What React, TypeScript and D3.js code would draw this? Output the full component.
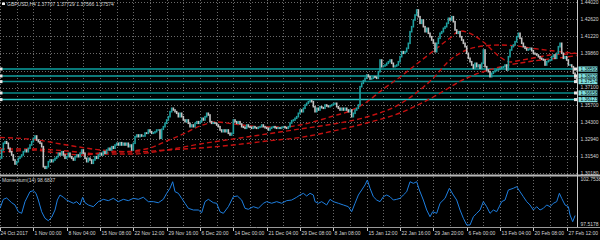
import React from "react";
import * as d3 from "d3";

const W = 600;
const H = 240;

const symbolName = "GBPUSD,H4";
const headerOHLC = ["1.37707", "1.37729", "1.37566", "1.37574"];
const momentumName = "Momentum(14)";
const momentumLast = "98.6837";
const momentumRange = [97.5178, 102.7538];
const priceRange = [1.3018, 1.4402];

const dateLabels = [
  "24 Oct 2017", "1 Nov 00:00", "8 Nov 04:00", "15 Nov 08:00", "22 Nov 12:00", "29 Nov 16:00",
  "6 Dec 20:00", "14 Dec 00:00", "21 Dec 04:00", "29 Dec 08:00", "8 Jan 08:00", "15 Jan 12:00",
  "22 Jan 16:00", "29 Jan 20:00", "6 Feb 00:00", "13 Feb 04:00", "20 Feb 08:00", "27 Feb 12:00",
];

const priceTickLabels = [
  "1.44020", "1.42620", "1.41220", "1.39860", "1.38460", "1.37100",
  "1.35700", "1.34300", "1.32940", "1.31540", "1.30180",
];

const levelPrices = [1.3859, 1.38029, 1.37574, 1.36658, 1.36123];
const levelLabels = ["1.38590", "1.38029", "1.37574", "1.36658", "1.36123"];

const closes = [
  1.31415, 1.32060, 1.32601, 1.32730, 1.32601, 1.32197, 1.31923, 1.31657, 1.31254, 1.30931,
  1.31117, 1.31391, 1.31520, 1.31657, 1.31923, 1.32060, 1.31923, 1.32197, 1.32463, 1.32730,
  1.33004, 1.33189, 1.32867, 1.32730, 1.32601, 1.32326, 1.30713, 1.30584, 1.30713, 1.31117,
  1.31254, 1.31117, 1.31254, 1.31391, 1.31520, 1.31794, 1.31657, 1.31923, 1.31657, 1.31391,
  1.31520, 1.31794, 1.31520, 1.31391, 1.31254, 1.31520, 1.31657, 1.31520, 1.31794, 1.32060,
  1.31794, 1.31391, 1.31117, 1.31391, 1.31254, 1.30988, 1.31254, 1.31520, 1.31391, 1.31657,
  1.31794, 1.31657, 1.31923, 1.31794, 1.32060, 1.32197, 1.32060, 1.32326, 1.32197, 1.32463,
  1.32601, 1.32463, 1.32649, 1.32463, 1.32601, 1.32463, 1.32601, 1.32326, 1.32463, 1.32060,
  1.32601, 1.33133, 1.33270, 1.33133, 1.33270, 1.33189, 1.33189, 1.33431, 1.33407, 1.33673,
  1.33536, 1.33407, 1.33455, 1.33536, 1.33673, 1.33673, 1.33004, 1.33730, 1.33939, 1.34213,
  1.34480, 1.34746, 1.35149, 1.35423, 1.35286, 1.35149, 1.35020, 1.34746, 1.35020, 1.34746,
  1.34480, 1.34342, 1.34480, 1.34213, 1.33939, 1.34076, 1.33939, 1.34213, 1.34342, 1.34213,
  1.34342, 1.34617, 1.34480, 1.34746, 1.35020, 1.34883, 1.34342, 1.34213, 1.34262, 1.34213,
  1.34076, 1.33939, 1.33673, 1.33536, 1.33673, 1.33536, 1.33673, 1.33407, 1.33270, 1.33407,
  1.34480, 1.34342, 1.34213, 1.34342, 1.34157, 1.33939, 1.33891, 1.33810, 1.34076, 1.33939,
  1.33891, 1.33810, 1.33939, 1.33859, 1.33810, 1.33891, 1.33939, 1.34076, 1.33939, 1.33859,
  1.33810, 1.33673, 1.33810, 1.33891, 1.33939, 1.33859, 1.33810, 1.33859, 1.33810, 1.33891,
  1.33939, 1.33859, 1.33810, 1.33939, 1.34238, 1.34423, 1.34480, 1.34617, 1.34746, 1.35020,
  1.35286, 1.35149, 1.35423, 1.35689, 1.35826, 1.35955, 1.36036, 1.35955, 1.35552, 1.35149,
  1.35423, 1.35286, 1.35552, 1.35471, 1.35423, 1.35689, 1.35609, 1.35552, 1.35633, 1.35689,
  1.35770, 1.35826, 1.35552, 1.35423, 1.35286, 1.35423, 1.35286, 1.35423, 1.35286, 1.35149,
  1.35286, 1.34746, 1.35020, 1.35286, 1.35423, 1.35689, 1.37165, 1.37439, 1.37649, 1.37842,
  1.38109, 1.37971, 1.37786, 1.37842, 1.37971, 1.37923, 1.37842, 1.38375, 1.39318, 1.38778,
  1.38834, 1.38915, 1.39052, 1.39181, 1.39318, 1.39052, 1.38778, 1.38834, 1.38915, 1.39181,
  1.39584, 1.39988, 1.39859, 1.39988, 1.40262, 1.40665, 1.41601, 1.42004, 1.42544, 1.42947,
  1.43351, 1.42810, 1.42278, 1.42544, 1.42004, 1.41601, 1.41875, 1.41472, 1.41197, 1.40931,
  1.40665, 1.39988, 1.40665, 1.41068, 1.41472, 1.41601, 1.41875, 1.42004, 1.42278, 1.42681,
  1.42544, 1.42810, 1.42407, 1.41738, 1.41472, 1.41601, 1.41197, 1.40931, 1.40665, 1.40391,
  1.39859, 1.39455, 1.39181, 1.38915, 1.38649, 1.39052, 1.38778, 1.38915, 1.38649, 1.39052,
  1.40125, 1.38778, 1.38512, 1.38375, 1.37971, 1.38246, 1.38375, 1.38455, 1.38512, 1.38568,
  1.38649, 1.38730, 1.38778, 1.38915, 1.38512, 1.39584, 1.40125, 1.40391, 1.40528, 1.40794,
  1.41197, 1.41472, 1.41068, 1.40665, 1.40391, 1.40262, 1.40125, 1.40181, 1.40262, 1.40068,
  1.39859, 1.39802, 1.39722, 1.39584, 1.39455, 1.39375, 1.39318, 1.38915, 1.39181, 1.39262,
  1.39318, 1.39584, 1.39722, 1.39455, 1.39859, 1.40391, 1.40665, 1.39859, 1.39455, 1.39584,
  1.39318, 1.38915, 1.38915, 1.38778, 1.38246, 1.37842, 1.37574,
];

const fastMA: [number, number][] = [
  [0, 1.31899], [10, 1.3198], [20, 1.3206], [30, 1.31899], [40, 1.31738], [50, 1.31657],
  [60, 1.31818], [70, 1.31899], [80, 1.3198], [90, 1.32222], [100, 1.32786], [110, 1.33351],
  [120, 1.33996], [130, 1.34318], [140, 1.34157], [150, 1.33996], [160, 1.33915], [170, 1.33915],
  [180, 1.34076], [190, 1.34399], [200, 1.34802], [210, 1.35205], [220, 1.35931], [230, 1.3698],
  [240, 1.37947], [250, 1.38996], [260, 1.40044], [270, 1.41092], [276, 1.41657], [280, 1.41576],
  [290, 1.4077], [300, 1.3956], [306, 1.39157], [310, 1.39238], [320, 1.3948], [330, 1.39722],
  [340, 1.39802], [346, 1.39883],
];

const midMA: [number, number][] = [
  [0, 1.32141], [20, 1.32141], [40, 1.3198], [60, 1.31738], [80, 1.31738], [100, 1.3206],
  [120, 1.32544], [140, 1.32947], [160, 1.33351], [180, 1.33754], [200, 1.34157], [220, 1.34722],
  [240, 1.3577], [260, 1.37867], [270, 1.39318], [280, 1.40125], [290, 1.40447], [300, 1.40528],
  [310, 1.40447], [320, 1.40246], [330, 1.40084], [340, 1.39923], [346, 1.39842],
];

const slowMA: [number, number][] = [
  [0, 1.33068], [20, 1.32907], [40, 1.32463], [60, 1.3206], [80, 1.31899], [100, 1.3206],
  [120, 1.32222], [140, 1.32463], [160, 1.32786], [180, 1.33068], [200, 1.33592], [220, 1.34238],
  [240, 1.35044], [260, 1.36334], [280, 1.37867], [300, 1.38754], [320, 1.39238], [340, 1.3956],
  [346, 1.39681],
];

const momentum: [number, number][] = [
  [0, 99.49], [2, 100.49], [4, 100.64], [7, 100.11], [9, 99.86], [11, 99.11], [13, 98.93],
  [15, 100.23], [18, 101.34], [20, 101.45], [21.6, 101.16], [23, 100.41], [25, 99.11], [27, 98.38],
  [29, 98.11], [31, 98.49], [33, 99.3], [34.4, 100.41], [36, 100.97], [38, 100.72], [40, 100.41],
  [42, 100.23], [44, 100.05], [46, 100.23], [48, 99.86], [49.6, 100.72], [51, 100.11], [53, 99.86],
  [56, 99.67], [59, 100.23], [62, 100.49], [65, 100.34], [68, 100.6], [71, 100.23], [74, 100.49],
  [77, 100.34], [80, 100.6], [83, 100.49], [86, 100.72], [89, 100.23], [92, 100.23], [95, 100.11],
  [98, 100.49], [100, 101.16], [102, 101.72], [103.6, 102.45], [105, 101.34], [107, 101.16],
  [109, 100.6], [111, 100.05], [113, 99.49], [116, 99.3], [119, 99.3], [121, 99.0], [123, 100.23],
  [125, 100.49], [128, 100.11], [130, 100.05], [132, 99.11], [134, 98.93], [137, 99.67],
  [140, 100.78], [142.4, 100.86], [145, 100.41], [147, 99.49], [149, 99.38], [152, 99.67],
  [155, 99.49], [158, 100.05], [160, 100.23], [163, 100.05], [166, 100.23], [169, 100.05],
  [172, 100.34], [175, 100.41], [178, 100.72], [180, 100.97], [182, 101.16], [184, 100.86],
  [186, 101.16], [188, 100.97], [189, 100.23], [191, 100.05], [193, 100.23], [196, 99.86],
  [198, 100.49], [200, 100.23], [203, 100.05], [206, 99.86], [209, 99.67], [211, 99.11],
  [213, 100.05], [215, 100.97], [217, 101.53], [219, 102.09], [220.4, 102.64], [222, 101.72],
  [224, 100.78], [226, 100.41], [228, 100.23], [230, 100.78], [232, 100.97], [234, 100.78],
  [236, 100.41], [238, 100.49], [240, 100.6], [242, 100.97], [244, 101.34], [246, 102.45],
  [248, 102.27], [250, 102.45], [251.6, 101.53], [254, 100.41], [256, 99.3], [258, 98.55],
  [259.6, 99.11], [262, 98.93], [264, 100.05], [267, 100.6], [269.6, 101.72], [272, 100.97],
  [274, 100.41], [276, 99.3], [278, 98.38], [280, 97.63], [282, 97.63], [284, 98.55], [286, 98.93],
  [288, 99.3], [290, 100.23], [292, 99.67], [294, 98.93], [296, 99.3], [298, 99.11], [301, 100.23],
  [303, 100.41], [305, 101.53], [308, 101.72], [310, 101.9], [312, 101.34], [314, 100.78],
  [316, 100.23], [318, 99.86], [320, 99.3], [322, 99.67], [324, 99.3], [326, 99.49], [328, 99.86],
  [330, 99.67], [332, 100.05], [334, 100.23], [335.6, 101.16], [337, 100.6], [339, 99.86],
  [341, 99.67], [342, 98.74], [343.6, 98.0], [345, 98.68],
];

const FONT = "'Liberation Sans', Arial, sans-serif";
const TEXT = "#d4d4d4";

export default function App() {
  const plotRight = 577;
  const x = d3.scaleLinear().domain([0, 346]).range([0, 576.7]);
  const y = d3.scaleLinear().domain(priceRange).range([173.3, 1.7]);
  const ym = d3.scaleLinear().domain(momentumRange).range([226, 179]);

  const maLine = d3
    .line<[number, number]>()
    .x((d) => x(d[0]))
    .y((d) => y(d[1]))
    .curve(d3.curveMonotoneX);
  const momLine = d3
    .line<[number, number]>()
    .x((d) => x(d[0]))
    .y((d) => ym(d[1]));

  const candles = closes.map((c, i) => {
    const o = i === 0 ? c : closes[i - 1];
    return { i, o, c };
  });

  const vGrid = d3.range(0, 341, 10);
  const dateTicks = d3.range(0, 341, 20);
  const levelColors = ["#087878", "#12a0a0", "#0d8a8a", "#066868", "#2cc8c8"];
  const levelWidths = [2, 1.5, 1.5, 2, 1.5];
  const levelYs = levelPrices.map((p) => y(p));
  const visiblePriceLabels = priceTickLabels.filter(
    (l) => !levelYs.some((ly) => Math.abs(ly - y(+l)) < 5)
  );

  return (
    <svg
      width={W}
      height={H}
      viewBox={`0 0 ${W} ${H}`}
      style={{ position: "absolute", left: 0, top: 0, display: "block", background: "#000" }}
    >
      <rect x={0} y={0} width={W} height={H} fill="#000" />

      {/* grid */}
      {priceTickLabels.map((l) => {
        const yy = Math.round(y(+l)) + 0.5;
        return (
          <line key={"hg" + l} x1={0} x2={plotRight} y1={yy} y2={yy} stroke="#6a6a6a" strokeDasharray="1 2" />
        );
      })}
      {vGrid.map((s) => {
        const xx = Math.round(x(s)) + 0.5;
        return (
          <line key={"vg" + s} x1={xx} x2={xx} y1={0} y2={227} stroke="#6a6a6a" strokeDasharray="1 2" />
        );
      })}

      {/* horizontal levels */}
      {levelPrices.map((p, k) => (
        <line
          key={"lv" + k}
          x1={0}
          x2={plotRight}
          y1={y(p)}
          y2={y(p)}
          stroke={levelColors[k]}
          strokeWidth={levelWidths[k]}
        />
      ))}

      {/* moving averages */}
      {[slowMA, midMA, fastMA].map((d, k) => (
        <path
          key={"ma" + k}
          d={maLine(d) || ""}
          fill="none"
          stroke="#c41010"
          strokeWidth={1.4}
          strokeDasharray="5 3"
        />
      ))}

      {/* candles */}
      {candles.map((d) => {
        const y1 = y(Math.max(d.o, d.c));
        const y2 = y(Math.min(d.o, d.c));
        const up = d.c >= d.o;
        return (
          <rect
            key={"c" + d.i}
            x={x(d.i) - 0.8}
            y={y1 - 0.8}
            width={1.6}
            height={Math.max(1.2, y2 - y1 + 1.6)}
            fill={up ? "#1fa0a0" : "#c4c4c4"}
          />
        );
      })}

      {/* level edge markers */}
      {levelPrices.map((p, k) => (
        <g key={"mk" + k}>
          <rect x={0} y={y(p) - 1.5} width={2.5} height={3} fill="#e8e8e8" />
          <rect x={574} y={y(p) - 1.5} width={3} height={3} fill="#e8e8e8" />
        </g>
      ))}

      {/* pane separator */}
      <rect x={0} y={174.5} width={W} height={2} fill="#b8b8b8" />

      {/* momentum */}
      <path d={momLine(momentum) || ""} fill="none" stroke="#1e7fe0" strokeWidth={1} />

      {/* borders */}
      <line x1={plotRight + 0.5} x2={plotRight + 0.5} y1={0} y2={228} stroke="#c8c8c8" />
      <line x1={0} x2={W} y1={227.5} y2={227.5} stroke="#9a9a9a" />

      {/* header */}
      <rect x={2} y={2.5} width={3} height={2.5} fill="#f0f0f0" />
      <text x={7} y={6.4} fontFamily={FONT} fontSize={5} fill={TEXT}>
        {symbolName + " " + headerOHLC.join(" ")}
      </text>
      <text x={2} y={182} fontFamily={FONT} fontSize={5} fill={TEXT}>
        {momentumName + " " + momentumLast}
      </text>

      {/* price axis labels */}
      {visiblePriceLabels.map((l) => (
        <text key={"pl" + l} x={580.5} y={y(+l) + 1.8} fontFamily={FONT} fontSize={5} fill={TEXT}>
          {l}
        </text>
      ))}
      {levelPrices.map((p, k) => (
        <g key={"lb" + k}>
          <rect x={578.5} y={y(p) - 2.6} width={19} height={5.2} fill="#7fe0e0" />
          <text x={580.5} y={y(p) + 1.7} fontFamily={FONT} fontSize={4.8} fill="#000">
            {levelLabels[k]}
          </text>
        </g>
      ))}
      <text x={580.5} y={ym(momentumRange[1]) + 2.2} fontFamily={FONT} fontSize={5} fill={TEXT}>
        {momentumRange[1].toFixed(4)}
      </text>
      <text x={580.5} y={ym(momentumRange[0]) + 0} fontFamily={FONT} fontSize={5} fill={TEXT}>
        {momentumRange[0].toFixed(4)}
      </text>

      {/* date axis */}
      {dateTicks.map((s, k) => {
        const xx = Math.round(x(s)) + 0.5;
        return (
          <g key={"dt" + s}>
            <line x1={xx} x2={xx} y1={228} y2={231} stroke="#c8c8c8" />
            <text x={xx + (k === 0 ? 0 : 1)} y={234.5} fontFamily={FONT} fontSize={5} fill={TEXT}>
              {dateLabels[k]}
            </text>
          </g>
        );
      })}
    </svg>
  );
}
